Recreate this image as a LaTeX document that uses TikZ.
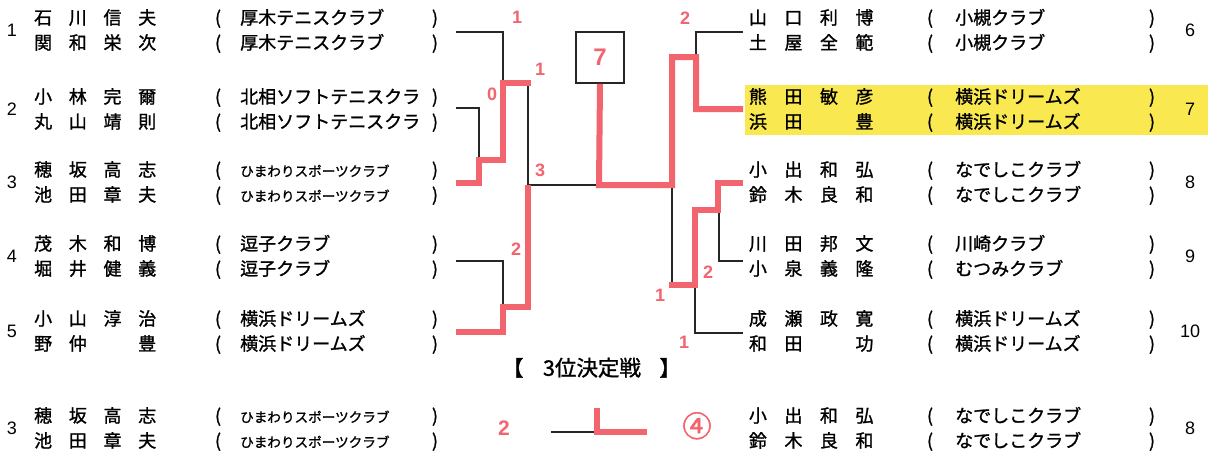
\documentclass[tikz,border=0pt]{standalone}
\usepackage{fontspec}
\setmainfont{Liberation Sans}
\newfontfamily\jp[RawFeature={embolden=1.2}]{Noto Sans CJK JP}
\newfontfamily\jpb[RawFeature={embolden=2}]{Noto Sans CJK JP}
\definecolor{rd}{HTML}{F2646E}
\definecolor{yl}{HTML}{FAE850}
\newcommand\nmL[4]{\makebox[34.7pt][c]{#1}\makebox[34.7pt][c]{#2}\makebox[34.7pt][c]{#3}\makebox[34.7pt][c]{#4}}
\newcommand\nmR[4]{\makebox[35.5pt][c]{#1}\makebox[35.5pt][c]{#2}\makebox[35.5pt][c]{#3}\makebox[35.5pt][c]{#4}}
\tikzset{
  base/.style={inner sep=0pt, text height=0.88em, text depth=0.12em},
  nm/.style={base, anchor=west, font=\jp\fontsize{18}{18}\selectfont},
  club/.style={base, anchor=west, font=\jp\fontsize{18}{18}\selectfont},
  smallclub/.style={base, anchor=west, font=\jp\fontsize{13.6}{14}\selectfont},
  par/.style={base, font=\jp\fontsize{18}{18}\selectfont},
  num/.style={base, font=\fontsize{18}{18}\selectfont},
  score/.style={base, text=rd, font=\bfseries\fontsize{18}{18}\selectfont},
  bk/.style={line width=1.6pt, draw=black!85},
  rl/.style={line width=6pt, draw=rd, line join=miter},
}
% #1 id, #2 y, #3 name, #4 club, #5 club style
\newcommand\rowL[5]{%
  \node[nm] (#1n) at (25.6,#2) {#3};
  \node[par] (#1a) at (218,#2) {(};
  \node[#5] (#1c) at (240,#2) {#4};
  \node[par] (#1b) at (435,#2) {)};
}
\newcommand\rowR[5]{%
  \node[nm] (#1n) at (740,#2) {#3};
  \node[par] (#1a) at (930,#2) {(};
  \node[#5] (#1c) at (955,#2) {#4};
  \node[par] (#1b) at (1152,#2) {)};
}
\begin{document}
\begin{tikzpicture}[x=1pt,y=-1pt]
\useasboundingbox (0,0) rectangle (1210,458);
\fill[white] (0,0) rectangle (1210,458);
% highlight
\fill[yl] (745,85) rectangle (1208,135);

% ---------- left teams
\node[num] (n1) at (12,33) {1};
\rowL{a1}{20.5}{\nmL{石}{川}{信}{夫}}{厚木テニスクラブ}{club}
\rowL{a2}{45.5}{\nmL{関}{和}{栄}{次}}{厚木テニスクラブ}{club}
\node[num] (n2) at (12,112) {2};
\rowL{b1}{99.5}{\nmL{小}{林}{完}{爾}}{北相ソフトテニスクラ}{club}
\rowL{b2}{124.5}{\nmL{丸}{山}{靖}{則}}{北相ソフトテニスクラ}{club}
\node[num] (n3) at (12,185) {3};
\rowL{c1}{172.5}{\nmL{穂}{坂}{高}{志}}{ひまわりスポーツクラブ}{smallclub}
\rowL{c2}{197.5}{\nmL{池}{田}{章}{夫}}{ひまわりスポーツクラブ}{smallclub}
\node[num] (n4) at (12,259) {4};
\rowL{d1}{246.5}{\nmL{茂}{木}{和}{博}}{逗子クラブ}{club}
\rowL{d2}{271.5}{\nmL{堀}{井}{健}{義}}{逗子クラブ}{club}
\node[num] (n5) at (12,334) {5};
\rowL{e1}{321.5}{\nmL{小}{山}{淳}{治}}{横浜ドリームズ}{club}
\rowL{e2}{346.5}{\nmL{野}{仲}{}{豊}}{横浜ドリームズ}{club}
\node[num] (n3b) at (12,431) {3};
\rowL{f1}{418.5}{\nmL{穂}{坂}{高}{志}}{ひまわりスポーツクラブ}{smallclub}
\rowL{f2}{443.5}{\nmL{池}{田}{章}{夫}}{ひまわりスポーツクラブ}{smallclub}

% ---------- right teams
\node[num] (n6) at (1190,33) {6};
\rowR{g1}{20.5}{\nmR{山}{口}{利}{博}}{小槻クラブ}{club}
\rowR{g2}{45.5}{\nmR{土}{屋}{全}{範}}{小槻クラブ}{club}
\node[num] (n7) at (1190,112) {7};
\rowR{h1}{99.5}{\nmR{熊}{田}{敏}{彦}}{横浜ドリームズ}{club}
\rowR{h2}{124.5}{\nmR{浜}{田}{}{豊}}{横浜ドリームズ}{club}
\node[num] (n8) at (1190,185) {8};
\rowR{i1}{172.5}{\nmR{小}{出}{和}{弘}}{なでしこクラブ}{club}
\rowR{i2}{197.5}{\nmR{鈴}{木}{良}{和}}{なでしこクラブ}{club}
\node[num] (n9) at (1190,259) {9};
\rowR{j1}{246.5}{\nmR{川}{田}{邦}{文}}{川崎クラブ}{club}
\rowR{j2}{271.5}{\nmR{小}{泉}{義}{隆}}{むつみクラブ}{club}
\node[num] (n10) at (1190,334) {10};
\rowR{k1}{321.5}{\nmR{成}{瀬}{政}{寛}}{横浜ドリームズ}{club}
\rowR{k2}{346.5}{\nmR{和}{田}{}{功}}{横浜ドリームズ}{club}
\node[num] (n8b) at (1190,431) {8};
\rowR{m1}{418.5}{\nmR{小}{出}{和}{弘}}{なでしこクラブ}{club}
\rowR{m2}{443.5}{\nmR{鈴}{木}{良}{和}}{なでしこクラブ}{club}

% ---------- bracket end points
\coordinate (L1) at (456,32);
\coordinate (L2) at (456,108);
\coordinate (L3) at (456,183);
\coordinate (L4) at (456,261);
\coordinate (L5) at (456,332);
\coordinate (R6) at (743,32);
\coordinate (R7) at (743,109);
\coordinate (R8) at (743,183);
\coordinate (R9) at (743,261);
\coordinate (R10) at (743,333);
\coordinate (Q3) at (551,432);
\coordinate (Q8) at (647,432);

% final box
\node[draw=black!85, line width=1.6pt, minimum width=48pt, minimum height=51pt, inner sep=0pt,
      text=rd, font=\bfseries\fontsize{24}{24}\selectfont] (box) at (600,57.5) {7};

% black lines
\draw[bk] (L1) -| (503,83);
\draw[bk] (L2) -| (479,160);
\draw[bk] (L4) -| (503,307);
\draw[bk] (528,83) -- (528,185) -- (599,185);
\draw[bk] (R6) -| (696,57);
\draw[bk] (R9) -| (719,210);
\draw[bk] (R10) -| (695,285);
\draw[bk] (672,185) -- (672,285);
\draw[bk] (Q3) -- (597,432);

% red lines
\draw[rl] (L3) -- (479,183) -- (479,160) -- (503,160) -- (503,83) -- (531,83);
\draw[rl] (L5) -- (503,332) -- (503,307) -- (528,307) -- (528,185);
\draw[rl] (R7) -- (696,109) -- (696,57) -- (672,57) -- (672,185) -- (599,185) -- (box.south);
\draw[rl] (R8) -- (718,183) -- (718,210) -- (695,210) -- (695,285) -- (669,285);
\draw[rl] (597,408) -- (597,432) -- (Q8);

% scores
\node[score] (s1) at (517,20) {1};
\node[score] (s2) at (540,72) {1};
\node[score] (s3) at (492,97) {0};
\node[score] (s4) at (540,173) {3};
\node[score] (s5) at (516,252) {2};
\node[score] (s6) at (685,21) {2};
\node[score] (s7) at (708,275) {2};
\node[score] (s8) at (660,298) {1};
\node[score] (s9) at (684,345) {1};
\node[score, font=\bfseries\fontsize{21}{21}\selectfont] (s10) at (504,432) {2};
\node[base, text=rd, font=\jpb\fontsize{29}{29}\selectfont] (s11) at (697,433) {④};

% title
\node[base, font=\jpb\fontsize{21}{21}\selectfont] (tl) at (513,372) {【};
\node[base, font=\jp\fontsize{21.5}{21.5}\selectfont] (tt) at (592,372) {3位決定戦};
\node[base, font=\jpb\fontsize{21}{21}\selectfont] (tr) at (670,372) {】};
\end{tikzpicture}
\end{document}
